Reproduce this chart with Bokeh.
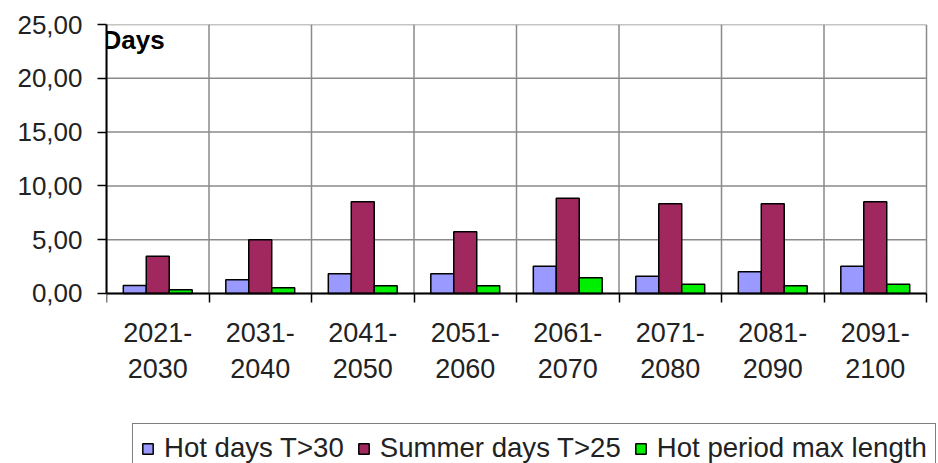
import numpy as np
from bokeh.plotting import figure
from bokeh.models import Range1d, FixedTicker, Legend, LegendItem, Label
from bokeh.embed import file_html
from bokeh.resources import INLINE

# ---- data ----
periods = ["2021-\n2030", "2031-\n2040", "2041-\n2050", "2051-\n2060",
           "2061-\n2070", "2071-\n2080", "2081-\n2090", "2091-\n2100"]
hot_days = [0.74, 1.27, 1.83, 1.83, 2.54, 1.61, 2.01, 2.54]
summer_days = [3.47, 5.00, 8.52, 5.73, 8.86, 8.33, 8.33, 8.52]
hot_period = [0.34, 0.53, 0.71, 0.71, 1.46, 0.86, 0.71, 0.86]
series_names = ["Hot days T>30", "Summer days T>25", "Hot period max length"]
y_ticks = [0, 5, 10, 15, 20, 25]
y_tick_labels = ["0,00", "5,00", "10,00", "15,00", "20,00", "25,00"]
axis_title = "Days"

# ---- style ----
colors = ["#9999FF", "#A0285E", "#00EE00"]
FONT = "Liberation Sans"
TXT = "#222222"
GRID = "#8a8a8a"

n = len(periods)
centers = [i + 0.5 for i in range(n)]
bounds = list(range(n + 1))
bar_w = 0.224
offsets = [-bar_w, 0.0, bar_w]
y_max = y_ticks[-1]

# frame reaches the canvas bottom/right; the area outside the value box
# holds the category labels and the legend
p = figure(width=938, height=463, output_backend="svg", toolbar_location=None,
           x_range=Range1d(0, n + 0.117), y_range=Range1d(-15.8, y_max),
           min_border_left=106, min_border_right=0, min_border_top=24,
           min_border_bottom=0, background_fill_color="white",
           border_fill_color="white", outline_line_color=None)

# grid lines drawn only over the value box
p.segment(x0=bounds, y0=[0] * len(bounds), x1=bounds, y1=[y_max] * len(bounds),
          line_color=GRID, line_width=1.5, level="underlay")
p.segment(x0=[0] * len(y_ticks), y0=y_ticks, x1=[n] * len(y_ticks), y1=y_ticks,
          line_color=GRID, line_width=1.5, level="underlay")
p.xgrid.visible = False
p.ygrid.visible = False

renderers = []
for vals, col, off in zip([hot_days, summer_days, hot_period], colors, offsets):
    xs = [c + off for c in centers]
    r = p.vbar(x=xs, top=vals, width=bar_w, bottom=0, fill_color=col,
               line_color="black", line_width=1.5)
    renderers.append(r)

# y axis
p.yaxis.ticker = FixedTicker(ticks=y_ticks)
p.yaxis.bounds = (0, y_max)
p.yaxis.major_label_overrides = {t: l for t, l in zip(y_ticks, y_tick_labels)}
p.yaxis.major_label_text_font = FONT
p.yaxis.major_label_text_font_size = "26px"
p.yaxis.major_label_text_color = TXT
p.yaxis.major_tick_out = 9
p.yaxis.major_tick_in = 0
p.yaxis.minor_tick_out = 0
p.yaxis.minor_tick_in = 0
p.yaxis.major_label_standoff = 15
p.yaxis.axis_line_width = 2
p.yaxis.axis_line_color = "black"
p.yaxis.major_tick_line_color = "black"
p.yaxis.major_tick_line_width = 1.5

# x axis, drawn at y = 0
xa = p.xaxis[0]
xa.fixed_location = 0
xa.bounds = (0, n)
xa.ticker = FixedTicker(ticks=centers, minor_ticks=bounds)
xa.major_label_overrides = {c: l for c, l in zip(centers, periods)}
xa.major_label_text_font = FONT
xa.major_label_text_font_size = "27px"
xa.major_label_text_color = TXT
xa.major_label_text_line_height = 1.18
xa.major_tick_line_color = None
xa.major_tick_out = 0
xa.major_tick_in = 0
xa.minor_tick_out = 9
xa.minor_tick_in = 0
xa.minor_tick_line_color = "black"
xa.minor_tick_line_width = 1.5
xa.major_label_standoff = 16
xa.axis_line_width = 2
xa.axis_line_color = "black"

# axis title
p.add_layout(Label(x=0, y=23.6, x_offset=-4, text=axis_title,
                   text_font=FONT, text_font_style="bold",
                   text_font_size="26px", text_color="black",
                   text_baseline="middle", text_align="left"))

# legend
legend = Legend(items=[LegendItem(label=nm, renderers=[r])
                       for nm, r in zip(series_names, renderers)],
                orientation="horizontal", location=(26, -10),
                label_text_font=FONT, label_text_font_size="27.6px",
                label_text_color=TXT, glyph_width=13, glyph_height=13,
                label_standoff=10, spacing=13, padding=8, margin=0,
                border_line_color="black", border_line_width=1.5,
                background_fill_color="white", background_fill_alpha=1.0)
p.add_layout(legend)

open("out.html", "w").write(file_html(p, INLINE))
